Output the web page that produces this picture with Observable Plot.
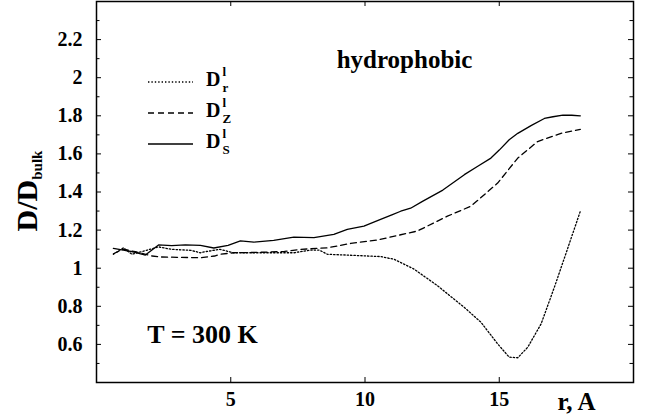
<!DOCTYPE html>
<html><head><meta charset="utf-8">
<script src="https://cdn.jsdelivr.net/npm/d3@7"></script>
<script src="https://cdn.jsdelivr.net/npm/@observablehq/plot@0.6"></script>
<style>
body{margin:0;background:#fff}
#chart{position:relative;width:648px;height:417px}
</style>
</head><body><div id="chart"></div>
<script>
// ---- data ----
const rR = [0.63, 1.0, 1.32, 1.69, 2.31, 2.8, 3.5, 3.87, 4.06, 4.6, 5.1, 6.0, 7.35, 7.97, 8.3, 8.6, 9.47, 10.58, 11.08, 11.83, 12.7, 13.7, 14.32, 14.94, 15.37, 15.69, 16.06, 16.56, 17.05, 17.43, 18.02];
const dR = [1.073, 1.107, 1.073, 1.087, 1.112, 1.099, 1.094, 1.081, 1.087, 1.099, 1.081, 1.081, 1.081, 1.095, 1.095, 1.073, 1.068, 1.061, 1.047, 0.995, 0.908, 0.794, 0.716, 0.603, 0.533, 0.530, 0.585, 0.708, 0.899, 1.055, 1.299];

const rZ = [0.63, 1.0, 1.5, 2.07, 2.4, 3.0, 3.87, 4.4, 4.6, 5.1, 6.0, 7.0, 7.6, 8.6, 9.47, 10.46, 11.95, 13.07, 13.94, 14.19, 14.94, 15.69, 16.43, 17.3, 18.02];
const dZ = [1.076, 1.1, 1.085, 1.064, 1.059, 1.057, 1.055, 1.064, 1.073, 1.081, 1.083, 1.088, 1.099, 1.107, 1.13, 1.148, 1.195, 1.273, 1.325, 1.355, 1.447, 1.578, 1.665, 1.708, 1.729];

const rS = [0.63, 1.0, 1.4, 1.82, 2.31, 2.8, 3.31, 3.87, 4.37, 4.9, 5.36, 5.86, 6.6, 7.35, 8.1, 8.84, 9.34, 9.96, 10.58, 11.0, 11.33, 11.7, 12.14, 12.9, 13.7, 14.2, 14.69, 15.0, 15.37, 15.69, 16.2, 16.68, 17.0, 17.37, 17.7, 18.02];
const dS = [1.104, 1.095, 1.085, 1.069, 1.122, 1.118, 1.122, 1.12, 1.106, 1.12, 1.143, 1.137, 1.146, 1.163, 1.16, 1.178, 1.204, 1.221, 1.256, 1.28, 1.299, 1.315, 1.351, 1.41, 1.491, 1.535, 1.578, 1.62, 1.674, 1.708, 1.75, 1.786, 1.795, 1.804, 1.803, 1.80];

const seriesKeys = ["r", "Z", "S"];
const xTicks = [5, 10, 15];
const yLabelTicks = [0.6, 0.8, 1.0, 1.2, 1.4, 1.6, 1.8, 2.0, 2.2];
const yMinorTicks = [0.5, 0.7, 0.9, 1.1, 1.3, 1.5, 1.7, 1.9, 2.1, 2.3];
const xLabel = "r, A";
const annotationTop = "hydrophobic";
const annotationBottom = "T = 300 K";

// ---- build table ----
const styles = {r: "1.4,2", Z: "6,4", S: null};
const raw = {r: [rR, dR], Z: [rZ, dZ], S: [rS, dS]};
const rows = seriesKeys.flatMap(k => raw[k][0].map((r, i) => ({r, d: raw[k][1][i], key: k})));

const font = '"Liberation Serif","Times New Roman",serif';
const W = 648, H = 417, ML = 96, MR = 15, MT = 1, MB = 35;
const FW = W - ML - MR, FH = H - MT - MB;

const lineMarks = seriesKeys.map(k => Plot.line(rows.filter(d => d.key === k), {
  x: "r", y: "d", stroke: "#000", strokeWidth: 1.3,
  strokeDasharray: styles[k] || undefined
}));

const plot = Plot.plot({
  width: W, height: H,
  marginLeft: ML, marginRight: MR, marginTop: MT, marginBottom: MB,
  style: {fontFamily: font, fontWeight: "bold", background: "#fff", color: "#000", overflow: "visible"},
  x: {domain: [0, 20]},
  y: {domain: [0.4, 2.4]},
  marks: [
    Plot.tickY(yLabelTicks, {y: d => d, insetRight: FW - 5, stroke: "#000", strokeWidth: 1}),
    Plot.tickY(yMinorTicks, {y: d => d, insetRight: FW - 3.5, stroke: "#000", strokeWidth: 1}),
    Plot.tickY(yLabelTicks, {y: d => d, insetLeft: FW - 5, stroke: "#000", strokeWidth: 1}),
    Plot.tickY(yMinorTicks, {y: d => d, insetLeft: FW - 3.5, stroke: "#000", strokeWidth: 1}),
    Plot.tickX(xTicks, {x: d => d, insetTop: FH - 5, stroke: "#000", strokeWidth: 1}),
    Plot.tickX(xTicks, {x: d => d, insetBottom: FH - 5, stroke: "#000", strokeWidth: 1}),
    Plot.axisY({ticks: yLabelTicks, tickSize: 0, tickPadding: 14, label: null,
      tickFormat: d => String(+d.toFixed(1)), fontSize: 20, fontWeight: "bold"}),
    Plot.axisX({ticks: xTicks, tickSize: 0, tickPadding: 9, label: null,
      tickFormat: d => String(d), fontSize: 20, fontWeight: "bold"}),
    ...lineMarks,
    Plot.text([xLabel], {text: d => d, frameAnchor: "bottom-right", dx: -57, dy: 19,
      textAnchor: "middle", lineAnchor: "middle", fontSize: 25, fontWeight: "bold"}),
    Plot.text([annotationTop], {text: d => d, frameAnchor: "top-left", dx: 308, dy: 58,
      textAnchor: "middle", lineAnchor: "middle", fontSize: 25, fontWeight: "bold"}),
    Plot.text([annotationBottom], {text: d => d, frameAnchor: "top-left", dx: 106, dy: 333,
      textAnchor: "middle", lineAnchor: "middle", fontSize: 26, fontWeight: "bold"}),
    Plot.frame({stroke: "#000", strokeWidth: 1.5})
  ]
});

const svg = d3.select(plot);

// legend
const legY = [82, 113, 144];
seriesKeys.forEach((k, i) => {
  const g = svg.append("g");
  g.append("line").attr("x1", 148).attr("x2", 193).attr("y1", legY[i]).attr("y2", legY[i])
    .attr("stroke", "#000").attr("stroke-width", 1.3)
    .attr("stroke-dasharray", styles[k] || null);
  const t = g.append("text").attr("x", 206).attr("y", legY[i] + 4).attr("text-anchor", "start")
    .attr("font-family", font).attr("font-weight", "bold").attr("font-size", 20).attr("fill", "#000");
  t.append("tspan").text("D");
  t.append("tspan").attr("font-size", 13).attr("dx", 2).attr("dy", -10).text("l");
  t.append("tspan").attr("font-size", 13).attr("dx", -3.6).attr("dy", 16).text(k);
});

// y-axis title
const yt = svg.append("text").attr("transform", "translate(37,191) rotate(-90)").attr("text-anchor", "middle")
  .attr("font-family", font).attr("font-weight", "bold").attr("font-size", 30).attr("fill", "#000");
yt.append("tspan").text("D/D");
yt.append("tspan").attr("font-size", 15).attr("dy", 5).text("bulk");

document.getElementById("chart").appendChild(plot);
</script>
</body></html>
